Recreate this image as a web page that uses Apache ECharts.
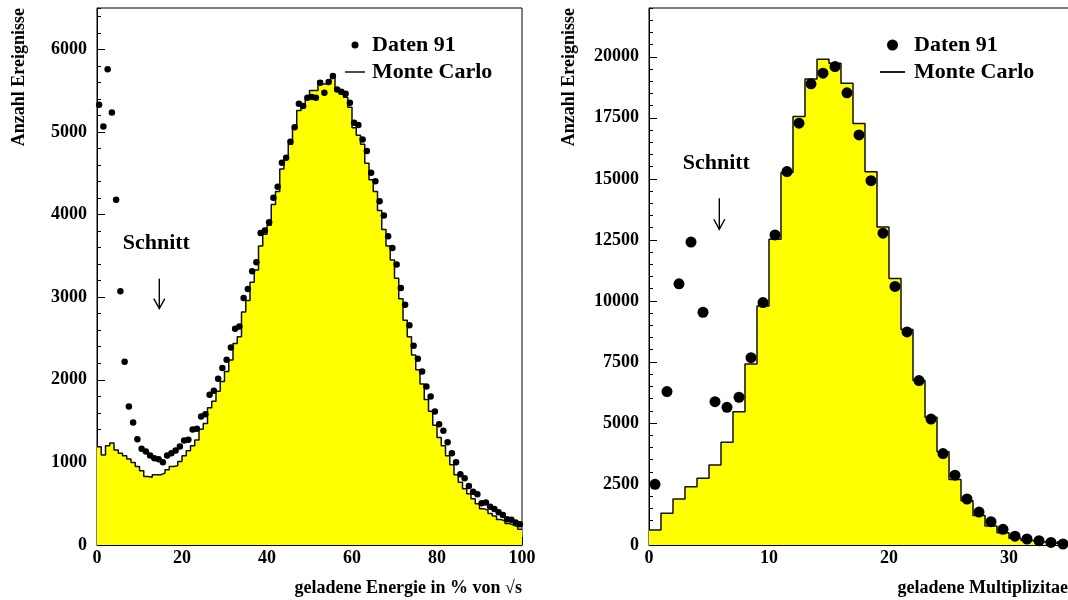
<!DOCTYPE html>
<html><head><meta charset="utf-8">
<script src="https://cdn.jsdelivr.net/npm/echarts@6/dist/echarts.min.js"></script>
<style>html,body{margin:0;padding:0;background:#fff;overflow:hidden;width:1068px;height:600px}#c{width:1140px;height:600px}</style>
</head><body><div id="c"></div>
<script>
// ---- data ----
// Left: charged energy in % of sqrt(s), 1%-bins 0..100
const dataEnergy = [5330,5067,5758,5236,4180,3070,2218,1676,1482,1281,
 1164,1131,1083,1050,1038,1002,1083,1111,1143,1192,
 1265,1273,1398,1406,1555,1584,1818,1867,2012,2141,
 2242,2392,2618,2646,2990,3100,3313,3422,3778,3806,
 3907,4202,4335,4626,4687,4881,5058,5341,5313,5414,
 5422,5414,5596,5475,5604,5677,5515,5487,5463,5354,
 5111,5083,4909,4768,4505,4404,4162,3988,3737,3596,
 3394,3111,2909,2659,2412,2255,2101,1919,1798,1616,
 1463,1382,1245,1111,1002,857,808,715,646,614,
 505,513,464,436,396,364,311,307,271,250];
const mcEnergy = [1190,1090,1200,1235,1150,1110,1080,1040,1000,950,
 900,830,820,850,850,870,910,950,960,1010,
 1080,1140,1200,1270,1400,1470,1660,1740,1860,1980,
 2100,2240,2440,2520,2820,2960,3180,3330,3620,3760,
 3870,4120,4280,4550,4700,4850,5050,5260,5330,5420,
 5500,5500,5620,5580,5600,5690,5520,5460,5420,5300,
 5050,4960,4850,4620,4420,4280,4050,3820,3620,3450,
 3230,2980,2720,2520,2300,2120,1950,1760,1620,1450,
 1300,1200,1080,970,850,760,680,620,560,500,
 440,420,380,350,310,290,260,240,220,190];
// Right: charged multiplicity, bins of 1 from 0..35
const dataMult = [2486,6284,10700,12410,9535,5873,5642,6053,7676,9930,
 12704,15298,17281,18892,19330,19602,18523,16802,14925,12777,
 10593,8729,6737,5159,3746,2860,1885,1348,955,643,
 361,246,176,107,41];
const mcMult = [615,1298,1885,2391,2732,3278,4207,5464,7418,9795,
 12527,15257,17552,19096,19904,19740,18917,17265,15290,13032,
 10917,8827,6737,5229,3819,2688,1815,1209,783,500,
 280,180,120,70,40];
// cut markers: [x, arrow top, arrow tip]
const cutEnergy = [14.66, 3224, 2861];
const cutMult = [5.86, 14207, 12937];
const cutLabel = 'Schnitt';
const seriesNames = ['Daten 91', 'Monte Carlo'];
const yTitle = 'Anzahl Ereignisse';
const xTitleLeft = 'geladene Energie in % von \u221As';
const xTitleRight = 'geladene Multiplizitaet';

// ---- helpers ----
const F = "'Liberation Serif','Times New Roman',serif";
function histPts(vals){ const p = vals.map((v,i)=>[i,v]); p.push([vals.length, vals[vals.length-1]]); return p; }
function centerPts(vals){ return vals.map((v,i)=>[i+0.5,v]); }
const lbl = {fontFamily:F, fontWeight:'bold', fontSize:18, color:'#000', formatter:v=>String(v)};
function xAx(grid, max, interval, split){
  return {type:'value', gridIndex:grid, min:0, max:max, interval:interval,
    axisLine:{show:true, onZero:false, lineStyle:{color:'#000', width:1}},
    axisTick:{show:true, inside:true, length:8, lineStyle:{color:'#000'}},
    minorTick:{show:true, splitNumber:split, length:4, lineStyle:{color:'#000'}},
    splitLine:{show:false}, minorSplitLine:{show:false},
    axisLabel:Object.assign({margin:4, showMaxLabel: grid===0}, lbl)};
}
function yAx(grid, max, interval, major){
  return {type:'value', gridIndex:grid, min:0, max:max, interval:interval, position:'left',
    axisLine:{show:major, onZero:false, lineStyle:{color:'#000', width:1}},
    axisTick:{show:true, inside:true, length: major?8:4, lineStyle:{color:'#000'}},
    splitLine:{show:false},
    axisLabel: major ? Object.assign({margin:10, showMaxLabel:false}, lbl) : {show:false}};
}
function cutRender(params, api){
  const x = api.value(0), p1 = api.coord([x, api.value(1)]), p2 = api.coord([x, api.value(2)]);
  return {type:'group', children:[
    {type:'line', shape:{x1:p1[0], y1:p1[1], x2:p2[0], y2:p2[1]}, style:{stroke:'#000', lineWidth:1.4}},
    {type:'polyline', shape:{points:[[p2[0]-5.5,p2[1]-10],[p2[0],p2[1]],[p2[0]+5.5,p2[1]-10]]}, style:{stroke:'#000', fill:null, lineWidth:1.4}},
    {type:'text', x:p1[0]-3, y:p1[1]-35, style:{text:cutLabel, font:"bold 22px 'Liberation Serif'", fill:'#000', align:'center', verticalAlign:'middle'}}
  ]};
}
const lineIcon = 'path://M0,0H40V3H0Z';
function legend(left, w, h, padL){
  return {left:left, top:29, orient:'vertical', itemGap:5, itemWidth:w, itemHeight:h, selectedMode:false,
    symbolKeepAspect:true,
    data:[{name:seriesNames[0], icon:'circle'}, {name:seriesNames[1], icon:lineIcon}],
    textStyle:{fontFamily:F, fontWeight:'bold', fontSize:22, color:'#000', lineHeight:22, padding:[0,0,0,padL]}};
}

const chart = echarts.init(document.getElementById('c'), null, {renderer:'canvas'});
chart.setOption({
  animation:false, backgroundColor:'#fff',
  grid:[
    {left:97, top:8, width:425, height:537, show:true, borderColor:'#000', borderWidth:1, backgroundColor:'rgba(0,0,0,0)'},
    {left:649, top:8, width:480, height:537, show:true, borderColor:'#000', borderWidth:1, backgroundColor:'rgba(0,0,0,0)'}
  ],
  xAxis:[ xAx(0,100,20,10), xAx(1,40,10,10) ],
  yAxis:[ yAx(0,6500,1000,true), yAx(0,6500,200,false), yAx(1,22000,2500,true), yAx(1,22000,500,false) ],
  legend:[ legend(340,20,7,2), legend(875,25,11,4) ],
  graphic:[
    {type:'text', x:19, y:8, rotation:Math.PI/2, style:{text:yTitle, font:"bold 18px 'Liberation Serif'", fill:'#000', align:'right', verticalAlign:'middle'}},
    {type:'text', x:569, y:8, rotation:Math.PI/2, style:{text:yTitle, font:"bold 18px 'Liberation Serif'", fill:'#000', align:'right', verticalAlign:'middle'}},
    {type:'text', x:522, y:588, style:{text:xTitleLeft, font:"bold 18px 'Liberation Serif'", fill:'#000', align:'right', verticalAlign:'middle'}},
    {type:'text', x:1074, y:588, style:{text:xTitleRight, font:"bold 18px 'Liberation Serif'", fill:'#000', align:'right', verticalAlign:'middle'}}
  ],
  series:[
    {name:seriesNames[1], type:'line', xAxisIndex:0, yAxisIndex:0, step:'end', symbol:'none', data:histPts(mcEnergy),
      lineStyle:{color:'#111', width:1.5}, itemStyle:{color:'#111'}, areaStyle:{color:'#ffff00', opacity:1}, z:2},
    {name:seriesNames[0], type:'scatter', xAxisIndex:0, yAxisIndex:0, symbol:'circle', symbolSize:6.5, data:centerPts(dataEnergy),
      itemStyle:{color:'#000', opacity:1}, z:3},
    {type:'custom', xAxisIndex:0, yAxisIndex:0, renderItem:cutRender, data:[cutEnergy], z:4, silent:true},
    {name:seriesNames[1], type:'line', xAxisIndex:1, yAxisIndex:2, step:'end', symbol:'none', data:histPts(mcMult),
      lineStyle:{color:'#111', width:1.5}, itemStyle:{color:'#111'}, areaStyle:{color:'#ffff00', opacity:1}, z:2},
    {name:seriesNames[0], type:'scatter', xAxisIndex:1, yAxisIndex:2, symbol:'circle', symbolSize:11, data:centerPts(dataMult),
      itemStyle:{color:'#000', opacity:1}, z:3},
    {type:'custom', xAxisIndex:1, yAxisIndex:2, renderItem:cutRender, data:[cutMult], z:4, silent:true}
  ]
});
</script></body></html>
